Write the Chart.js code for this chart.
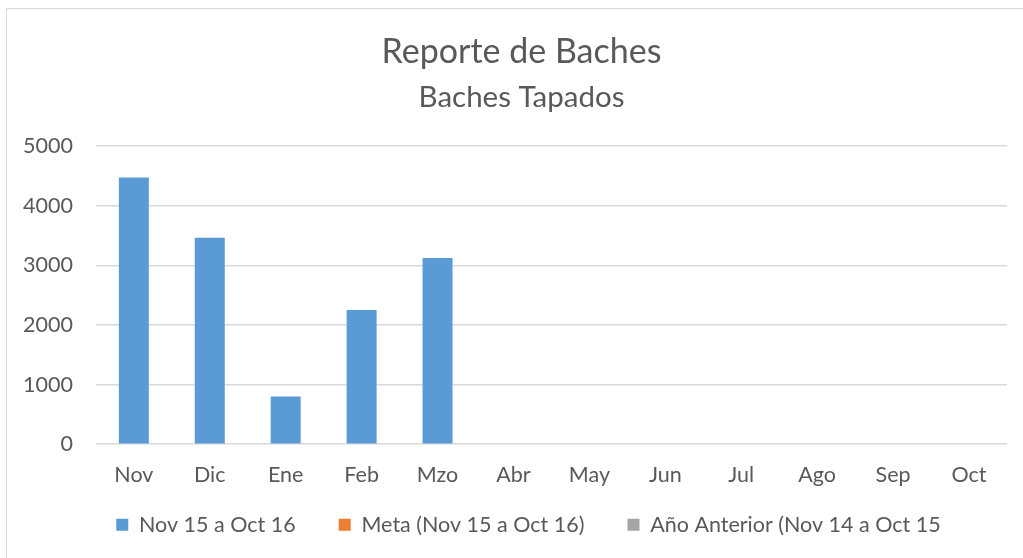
<!DOCTYPE html>
<html>
<head>
<meta charset="utf-8">
<script src="https://cdn.jsdelivr.net/npm/chart.js@4/dist/chart.umd.min.js"></script>
<style>
  html, body { margin: 0; padding: 0; background: #fff; overflow: hidden; }
  #frame { position: absolute; left: 6px; top: 8px; width: 1100px; height: 600px;
           border-left: 1.5px solid #d9d9d9; border-top: 1.5px solid #d9d9d9; }
  #wrap { position: absolute; left: 0; top: 0; width: 1023px; height: 558px; }
</style>
</head>
<body>
<div id="frame"></div>
<div id="wrap"><canvas id="bachesChart"></canvas></div>
<script>
const months = ["Nov", "Dic", "Ene", "Feb", "Mzo", "Abr", "May", "Jun", "Jul", "Ago", "Sep", "Oct"];
const tapados = [4475, 3465, 800, 2250, 3125, null, null, null, null, null, null, null];
const meta = [null, null, null, null, null, null, null, null, null, null, null, null];
const anioAnterior = [null, null, null, null, null, null, null, null, null, null, null, null];

const fontFamily = "Lato, 'Open Sans', sans-serif";
const textColor = "#595959";
const tickSize = 21.5;

// legend sits closer to the axis labels than Chart.js would place it,
// and the titles are centred on the whole frame rather than the plot box
const layoutNudge = {
    id: "layoutNudge",
    beforeLayout(chart) {
        const legend = chart.legend;
        if (legend && !legend._nudged) {
            const fit = legend.fit;
            legend.fit = function () {
                fit.call(this);
                this.height = 48;
            };
            legend._nudged = true;
        }
    },
    afterLayout(chart) {
        const legend = chart.legend;
        if (legend) {
            const dx = 25;
            legend.left += dx;
            legend.right += dx;
            legend.top = 471;
            legend.bottom = 558;
            legend.height = legend.bottom - legend.top;
        }
        chart.boxes.forEach((box) => {
            if (box.position === "top" && box.options && box.options.text !== undefined) {
                box.left += 18;
                box.right += 18;
            }
        });
    }
};

const ctx = document.getElementById("bachesChart").getContext("2d");

new Chart(ctx, {
    type: "bar",
    data: {
        labels: months,
        datasets: [
            {
                label: "Nov 15 a Oct 16",
                data: tapados,
                backgroundColor: "#5b9bd5",
                grouped: false,
            },
            {
                label: "Meta (Nov 15 a Oct 16)",
                data: meta,
                backgroundColor: "#ed7d31",
                grouped: false,
            },
            {
                label: "Año Anterior (Nov 14 a Oct 15",
                data: anioAnterior,
                backgroundColor: "#a5a5a5",
                grouped: false,
            }
        ]
    },
    options: {
        responsive: true,
        maintainAspectRatio: false,
        animation: false,
        categoryPercentage: 1,
        barPercentage: 0.395,
        layout: {
            padding: { left: 0, right: 16, top: 32, bottom: 12 }
        },
        plugins: {
            title: {
                display: true,
                text: "Reporte de Baches",
                color: textColor,
                font: { family: fontFamily, size: 34, weight: "normal" },
                padding: { top: 0, bottom: 7 }
            },
            subtitle: {
                display: true,
                text: "Baches Tapados",
                color: textColor,
                font: { family: fontFamily, size: 29.5, weight: "normal" },
                padding: { top: 0, bottom: 31 }
            },
            legend: {
                position: "bottom",
                labels: {
                    color: textColor,
                    font: { family: fontFamily, size: tickSize },
                    boxWidth: 12,
                    boxHeight: 12,
                    padding: 43
                }
            },
            tooltip: { enabled: false }
        },
        scales: {
            x: {
                grid: { display: false },
                border: { display: false },
                ticks: {
                    color: textColor,
                    font: { family: fontFamily, size: tickSize },
                    padding: 10
                }
            },
            y: {
                min: 0,
                max: 5000,
                ticks: {
                    stepSize: 1000,
                    color: textColor,
                    font: { family: fontFamily, size: tickSize },
                    padding: 23,
                    callback: (value) => String(value)
                },
                grid: { color: "#d9d9d9", lineWidth: 1.5, drawTicks: false },
                border: { display: false }
            }
        }
    },
    plugins: [layoutNudge]
});
</script>
</body>
</html>
